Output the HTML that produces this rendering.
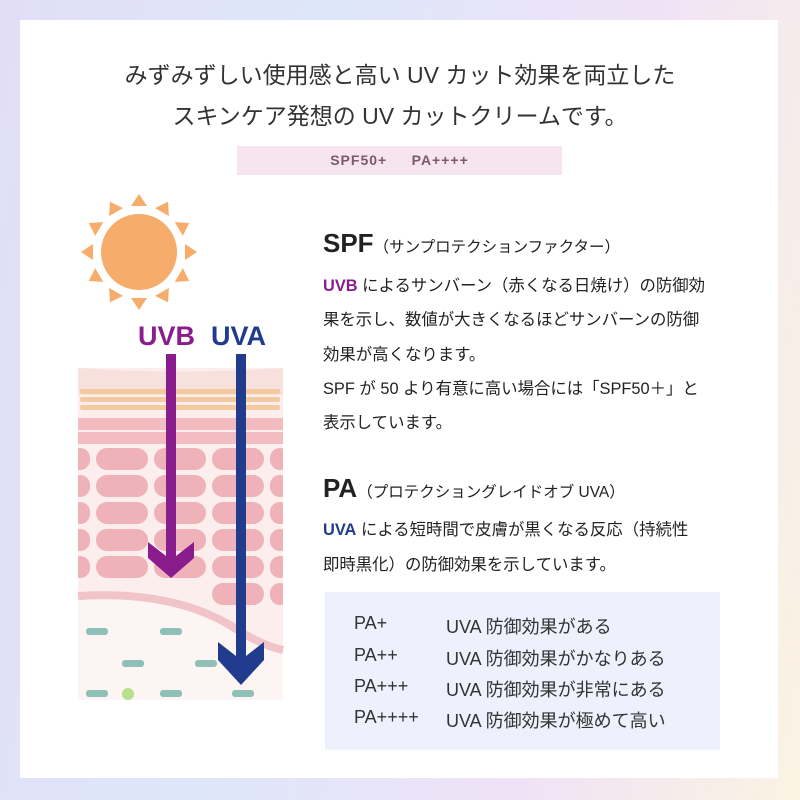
<!DOCTYPE html>
<html><head><meta charset="utf-8"><style>
body{margin:0;width:800px;height:800px;overflow:hidden;background:linear-gradient(100deg,#e2def8 0%,#dde6fa 35%,#f0e2f6 70%,#fbf3e2 100%);font-family:"Liberation Sans","Noto Sans CJK JP",sans-serif;color:#222}
.panel{position:absolute;left:20px;top:20px;width:758px;height:758px;background:#fff}
.t{position:absolute;white-space:nowrap}
.h{left:0;width:800px;text-align:center;font-size:23px;color:#333}
.badge{position:absolute;left:237px;top:146px;width:325px;height:29px;background:#f6e4ef;color:#7a5a6c;font-weight:bold;font-size:14px;text-align:center;line-height:29px;letter-spacing:1px}
.b{font-size:16.4px;left:323px;color:#222}
.box{position:absolute;left:325px;top:592px;width:395px;height:158px;background:#eef0fb}
.r{font-size:18px;color:#333}
</style></head><body>
<div class="panel"></div>
<div class="t h" style="top:56px">みずみずしい使用感と高い UV カット効果を両立した</div>
<div class="t h" style="top:97px">スキンケア発想の UV カットクリームです。</div>
<div class="badge">SPF50+&nbsp;&nbsp;&nbsp;&nbsp;&nbsp;PA++++</div>

<svg style="position:absolute;left:0;top:0" width="800" height="800">
<g fill="#f6ac6a">
<circle cx="139" cy="252" r="38"/>
<g transform="translate(139,252)">
<polygon points="-8,-46 8,-46 0,-58"/>
<polygon points="-8,-46 8,-46 0,-58" transform="rotate(30)"/>
<polygon points="-8,-46 8,-46 0,-58" transform="rotate(60)"/>
<polygon points="-8,-46 8,-46 0,-58" transform="rotate(90)"/>
<polygon points="-8,-46 8,-46 0,-58" transform="rotate(120)"/>
<polygon points="-8,-46 8,-46 0,-58" transform="rotate(150)"/>
<polygon points="-8,-46 8,-46 0,-58" transform="rotate(180)"/>
<polygon points="-8,-46 8,-46 0,-58" transform="rotate(210)"/>
<polygon points="-8,-46 8,-46 0,-58" transform="rotate(240)"/>
<polygon points="-8,-46 8,-46 0,-58" transform="rotate(270)"/>
<polygon points="-8,-46 8,-46 0,-58" transform="rotate(300)"/>
<polygon points="-8,-46 8,-46 0,-58" transform="rotate(330)"/>
</g></g>
<text x="138" y="345" font-size="27" font-weight="bold" fill="#8a1d8e" font-family="Liberation Sans">UVB</text>
<text x="211" y="345" font-size="27" font-weight="bold" fill="#213c8c" font-family="Liberation Sans">UVA</text>
<rect x="78" y="368" width="205" height="332" fill="#fbeeec"/>
<path d="M78 368 Q180 375 283 368 L283 395 L78 395Z" fill="#f8e0dc"/>
<g fill="#f3c9a0">
<rect x="80" y="389" width="200" height="5" rx="2"/><rect x="80" y="397" width="200" height="5" rx="2"/><rect x="80" y="405" width="200" height="5" rx="2"/>
</g>
<g fill="#f2bcc0">
<rect x="78" y="418" width="205" height="12" />
<rect x="78" y="432" width="205" height="12"/>
</g>
<g fill="#eeb2b8">
<rect x="70" y="448" width="20" height="22" rx="10"/><rect x="70" y="475" width="20" height="22" rx="10"/><rect x="70" y="502" width="20" height="22" rx="10"/><rect x="70" y="529" width="20" height="22" rx="10"/><rect x="70" y="556" width="20" height="22" rx="10"/>
<rect x="270" y="448" width="20" height="22" rx="10"/><rect x="270" y="475" width="20" height="22" rx="10"/><rect x="270" y="502" width="20" height="22" rx="10"/><rect x="270" y="529" width="20" height="22" rx="10"/><rect x="270" y="556" width="20" height="22" rx="10"/><rect x="270" y="583" width="20" height="22" rx="10"/>
<rect x="96" y="448" width="52" height="22" rx="11"/><rect x="154" y="448" width="52" height="22" rx="11"/><rect x="212" y="448" width="52" height="22" rx="11"/>
<rect x="96" y="475" width="52" height="22" rx="11"/><rect x="154" y="475" width="52" height="22" rx="11"/><rect x="212" y="475" width="52" height="22" rx="11"/>
<rect x="96" y="502" width="52" height="22" rx="11"/><rect x="154" y="502" width="52" height="22" rx="11"/><rect x="212" y="502" width="52" height="22" rx="11"/>
<rect x="96" y="529" width="52" height="22" rx="11"/><rect x="154" y="529" width="52" height="22" rx="11"/><rect x="212" y="529" width="52" height="22" rx="11"/>
<rect x="96" y="556" width="52" height="22" rx="11"/><rect x="154" y="556" width="52" height="22" rx="11"/><rect x="212" y="556" width="52" height="22" rx="11"/>
<rect x="212" y="583" width="52" height="22" rx="11"/>
</g>
<rect x="60" y="440" width="18" height="180" fill="#fff"/>
<rect x="283" y="440" width="18" height="180" fill="#fff"/>
<path d="M78 592 Q170 585 230 620 Q260 640 283 645 L283 700 L78 700Z" fill="#fdf4f4"/>
<path d="M78 596 Q170 590 230 625 Q260 645 283 650" stroke="#f0c4c8" stroke-width="8" fill="none"/>
<g fill="#8fc0b8">
<rect x="86" y="628" width="22" height="7" rx="3"/><rect x="160" y="628" width="22" height="7" rx="3"/>
<rect x="122" y="660" width="22" height="7" rx="3"/><rect x="195" y="660" width="22" height="7" rx="3"/>
<rect x="86" y="690" width="22" height="7" rx="3"/><rect x="160" y="690" width="22" height="7" rx="3"/><rect x="232" y="690" width="22" height="7" rx="3"/>
</g>
<circle cx="128" cy="694" r="6" fill="#b5e08c"/>
<rect x="166" y="354" width="10" height="200" fill="#8a1d8e"/>
<polygon points="148,542 166,556 166,546 176,546 176,556 194,542 194,558 171,578 148,558" fill="#8a1d8e"/>
<rect x="236" y="354" width="10" height="300" fill="#213c8c"/>
<polygon points="218,642 236,656 236,646 246,646 246,656 264,642 264,660 241,685 218,660" fill="#213c8c"/>
</svg>

<div class="t" style="left:323px;top:228px;font-size:26px;font-weight:bold;color:#222">SPF<span style="font-size:15.5px;font-weight:normal">（サンプロテクションファクター）</span></div>
<div class="t b" style="top:272px"><b style="color:#8a1d8e">UVB</b> によるサンバーン（赤くなる日焼け）の防御効</div>
<div class="t b" style="top:306px">果を示し、数値が大きくなるほどサンバーンの防御</div>
<div class="t b" style="top:341px">効果が高くなります。</div>
<div class="t b" style="top:375px">SPF が 50 より有意に高い場合には「SPF50＋」と</div>
<div class="t b" style="top:409px">表示しています。</div>

<div class="t" style="left:323px;top:473px;font-size:26px;font-weight:bold;color:#222">PA<span style="font-size:15.5px;font-weight:normal">（プロテクショングレイドオブ UVA）</span></div>
<div class="t b" style="top:516px"><b style="color:#213c8c">UVA</b> による短時間で皮膚が黒くなる反応（持続性</div>
<div class="t b" style="top:551px">即時黒化）の防御効果を示しています。</div>

<div class="box"></div>
<div class="t r" style="left:354px;top:613px">PA+</div><div class="t r" style="left:446px;top:613px">UVA 防御効果がある</div>
<div class="t r" style="left:354px;top:645px">PA++</div><div class="t r" style="left:446px;top:645px">UVA 防御効果がかなりある</div>
<div class="t r" style="left:354px;top:676px">PA+++</div><div class="t r" style="left:446px;top:676px">UVA 防御効果が非常にある</div>
<div class="t r" style="left:354px;top:707px">PA++++</div><div class="t r" style="left:446px;top:707px">UVA 防御効果が極めて高い</div>
</body></html>
